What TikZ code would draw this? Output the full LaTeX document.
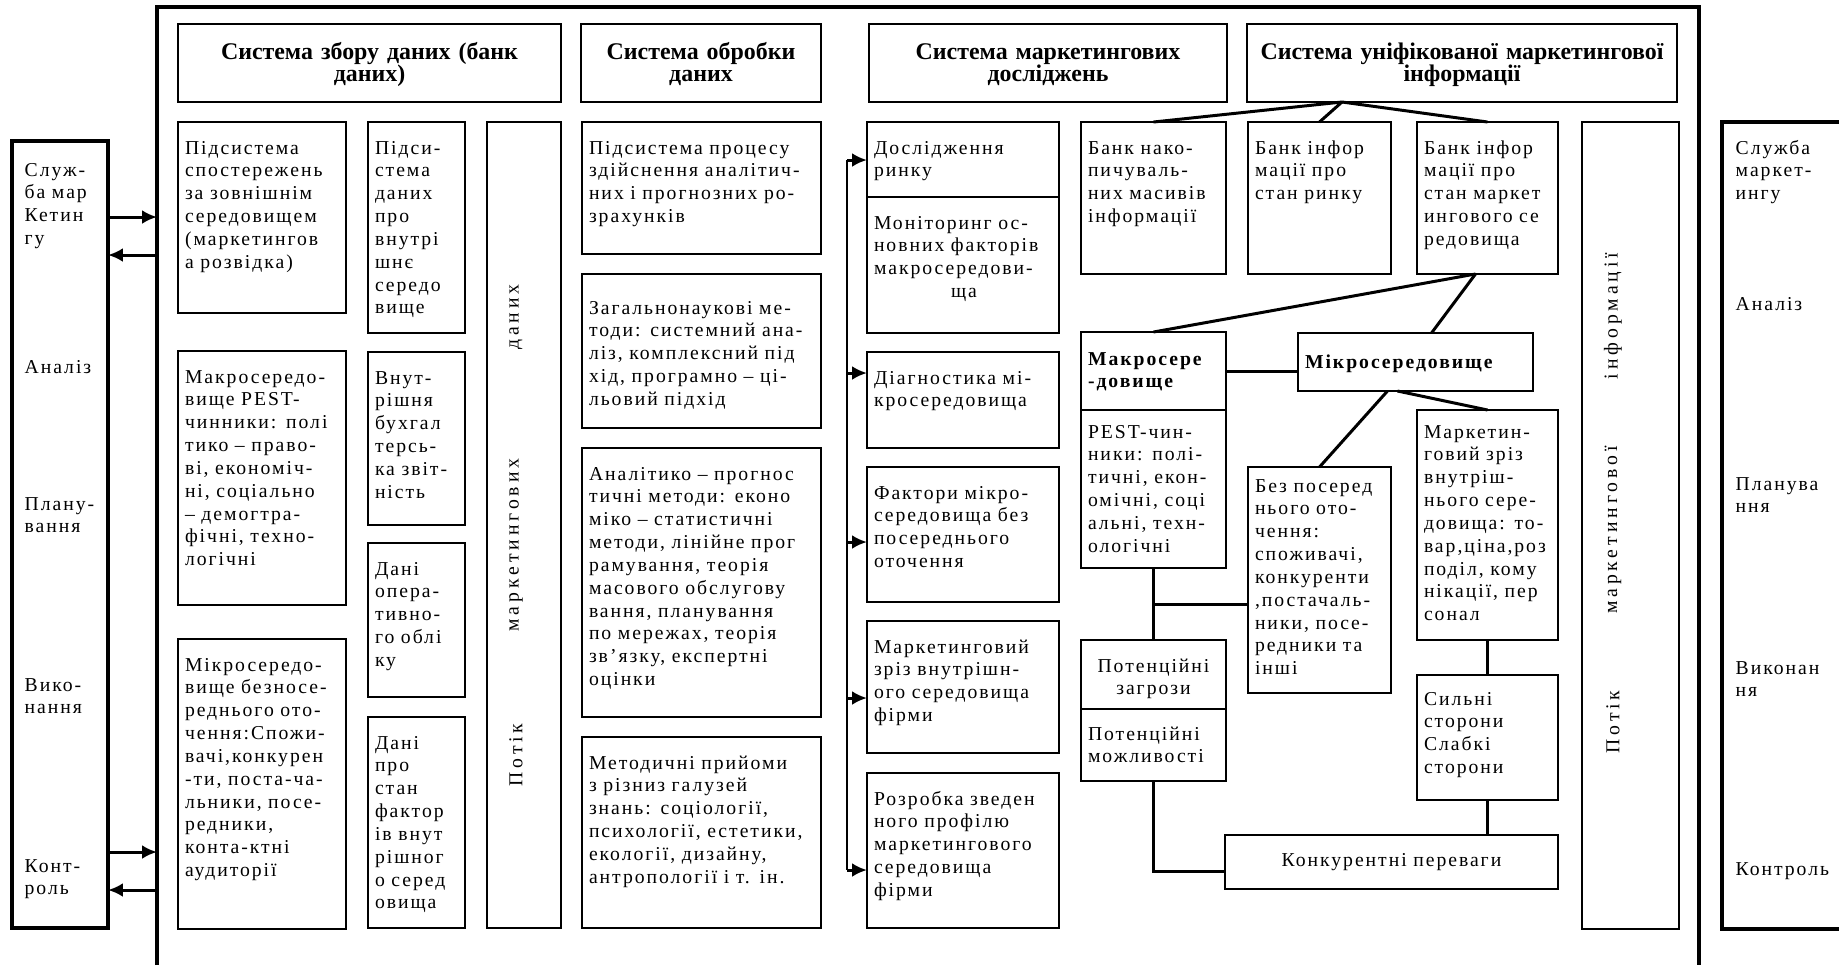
\documentclass[tikz,border=0pt]{standalone}
\usepackage{fontspec}
\setmainfont{Liberation Serif}
\newfontfamily\bodyfont{Liberation Serif}[LetterSpace=10]
\newfontfamily\headfont{Liberation Serif}
\newfontfamily\rotfont{Liberation Serif}[LetterSpace=20]
\usepackage{tikz}
\usetikzlibrary{arrows.meta, positioning}

\begin{document}
\begin{tikzpicture}[x=0.1mm, y=-0.1mm,
			>={Latex[length=1.5mm, width=1.4mm]},
			box/.style={draw, line width=0.75pt, anchor=north west, align=left,
				inner xsep=0.7mm, inner ysep=0pt, outer sep=0pt, text height=3.2mm,
				font=\bodyfont\fontsize{5.6}{6.5}\selectfont},
			headbox/.style={draw, line width=0.75pt, anchor=north west, align=center,
				inner sep=0pt, outer sep=0pt, text height=3.5mm, text depth=4.3mm,
				font=\headfont\bfseries\fontsize{6.8}{6.5}\selectfont},
			flowbox/.style={draw, line width=0.75pt, anchor=north west, inner sep=0pt, outer sep=0pt},
			sidetext/.style={anchor=base west, align=left, inner sep=0pt,
				font=\bodyfont\fontsize{5.6}{6.5}\selectfont},
			vtext/.style={rotate=90, inner sep=0pt, font=\rotfont\fontsize{5.6}{6}\selectfont},
			outline/.style={line width=1.1pt},
			tree/.style={line width=0.85pt},
			arr/.style={->, line width=0.85pt}]
			
			\fill[white, use as bounding box] (0,0) rectangle (1839,965);
			
			% frame and the two side columns
			\draw[outline] (157,965) |- (1699,7) -- (1699,965);
			\node[flowbox, line width=1.1pt, minimum width=9.6mm, minimum height=78.7mm] (lbox) at (12,141) {};
			\draw[outline] (1839,122) -| (1722,929) -- (1839,929);
			
			\node[sidetext, text width=8mm] (lsluzh) at (24,176) {Служ-\\ба мар\\Кетин\\гу};
			\node[sidetext, text width=8mm] (lanal) at (24,373) {Аналіз};
			\node[sidetext, text width=8mm] (lplan) at (24,510) {Плану-\\вання};
			\node[sidetext, text width=8mm] (lvykon) at (24,691) {Вико-\\нання};
			\node[sidetext, text width=8mm] (lkontr) at (24,872) {Конт-\\роль};
			
			\node[sidetext, text width=10mm] (rsluzh) at (1735,154) {Служба\\маркет-\\ингу};
			\node[sidetext, text width=10mm] (ranal) at (1735,310) {Аналіз};
			\node[sidetext, text width=10mm] (rplan) at (1735,490) {Планува\\ння};
			\node[sidetext, text width=10mm] (rvykon) at (1735,674) {Виконан\\ня};
			\node[sidetext, text width=10mm] (rkontr) at (1735,875) {Контроль};
			
			% headers
			\node[headbox, text width=38.3mm] (zbir) at (178,24) {Система збору даних (банк\\даних)};
			\node[headbox, text width=24mm] (obrob) at (581,24) {Система обробки\\даних};
			\node[headbox, text width=35.8mm] (dosl) at (869,24) {Система маркетингових\\досліджень};
			\node[headbox, text width=43mm] (unif) at (1247,24) {Система уніфікованої маркетингової\\інформації};
			
			% data collection
			\node[box, text width=15.4mm, text depth=15.9mm] (sposter) at (178,122) {Підсистема\\спостережень\\за зовнішнім\\середовищем\\(маркетингов\\а розвідка)};
			\node[box, text width=15.4mm, text depth=22.2mm] (makro) at (178,351) {Макросередо-\\вище PEST-\\чинники: полі\\тико – право-\\ві, економіч-\\ні, соціально\\– демогтра-\\фічні, техно-\\логічні};
			\node[box, text width=15.4mm, text depth=25.8mm] (mikro) at (178,639) {Мікросередо-\\вище безносе-\\реднього ото-\\чення:Спожи-\\вачі,конкурен\\-ти, поста-ча-\\льники, посе-\\редники,\\конта-ктні\\аудиторії};
			\node[box, text width=8.3mm, text depth=17.9mm] (vnutr) at (368,122) {Підси-\\стема\\даних\\про\\внутрі\\шнє\\середо\\вище};
			\node[box, text width=8.3mm, text depth=14.1mm] (buhg) at (368,352) {Внут-\\рішня\\бухгал\\терсь-\\ка звіт-\\ність};
			\node[box, text width=8.3mm, text depth=12.2mm] (operat) at (368,543) {Дані\\опера-\\тивно-\\го облі\\ку};
			\node[box, text width=8.3mm, text depth=17.9mm] (faktor) at (368,717) {Дані\\про\\стан\\фактор\\ів внут\\рішног\\о серед\\овища};
			\node[flowbox, minimum width=7.4mm, minimum height=80.6mm] (potikd) at (487,122) {};
			\node[vtext] (potikd1) at (516,755) {Потік};
			\node[vtext] (potikd2) at (516,545) {маркетингових};
			\node[vtext] (potikd3) at (516,317) {даних};
			
			% data processing
			\node[box, text width=22.5mm, text depth=10mm] (proces) at (582,122) {Підсистема процесу\\здійснення аналітич-\\них і прогнозних ро-\\зрахунків};
			\node[box, text width=22.5mm, text height=4mm, text depth=11.4mm] (zagal) at (582,274) {Загальнонаукові ме-\\тоди: системний ана-\\ліз, комплексний під\\хід, програмно – ці-\\льовий підхід};
			\node[box, text width=22.5mm, text depth=23.7mm] (analit) at (582,448) {Аналітико – прогнос\\тичні методи: еконо\\міко – статистичні\\методи, лінійне прог\\рамування, теорія\\масового обслугову\\вання, планування\\по мережах, теорія\\зв’язку, експертні\\оцінки};
			\node[box, text width=22.5mm, text depth=15.9mm] (metod) at (582,737) {Методичні прийоми\\з різниз галузей\\знань: соціології,\\психології, естетики,\\екології, дизайну,\\антропології і т. ін.};
			
			% marketing research
			\node[box, text width=17.8mm, text depth=4.3mm] (doslr) at (867,122) {Дослідження\\ринку};
			\node[box, below=0pt of doslr, text width=17.8mm, text depth=10.4mm] (monit) {Моніторинг ос-\\новних факторів\\макросередови-\\\hspace*{7.7mm}ща};
			\node[box, text width=17.8mm, text depth=6.4mm] (diagn) at (867,352) {Діагностика мі-\\кросередовища};
			\node[box, text width=17.8mm, text depth=10.3mm] (faktm) at (867,467) {Фактори мікро-\\середовища без\\посереднього\\оточення};
			\node[box, text width=17.8mm, text depth=10mm] (zrizf) at (867,621) {Маркетинговий\\зріз внутрішн-\\ого середовища\\фірми};
			\node[box, text width=17.8mm, text depth=12.3mm] (rozrob) at (867,773) {Розробка зведен\\ного профілю\\маркетингового\\середовища\\фірми};
			
			\coordinate (ba) at (847,160);
			\coordinate (bb) at (847,373);
			\coordinate (bc) at (847,542);
			\coordinate (bd) at (847,698);
			\coordinate (be) at (847,870);
			\draw[tree] (ba) -- (be);
			\draw[arr] (ba) -- (ba -| doslr.west);
			\draw[arr] (bb) -- (bb -| diagn.west);
			\draw[arr] (bc) -- (bc -| faktm.west);
			\draw[arr] (bd) -- (bd -| zrizf.west);
			\draw[arr] (be) -- (be -| rozrob.west);
			
			% unified information
			\node[box, text width=13.1mm, text depth=12mm] (banknak) at (1081,122) {Банк нако-\\пичуваль-\\них масивів\\інформації};
			\node[box, text width=12.9mm, text depth=12mm] (bankryn) at (1248,122) {Банк інфор\\мації про\\стан ринку};
			\node[box, text width=12.7mm, text depth=12mm] (bankser) at (1417,122) {Банк інфор\\мації про\\стан маркет\\ингового се\\редовища};
			\node[box, text width=13.1mm, text height=3.3mm, text depth=4.5mm, font=\bodyfont\bfseries\fontsize{5.6}{6.5}\selectfont] (makroh) at (1081,332) {Макросере\\-довище};
			\node[box, below=0pt of makroh, text width=13.1mm, text height=2.8mm, text depth=13mm] (pest) {PEST-чин-\\ники: полі-\\тичні, екон-\\омічні, соці\\альні, техн-\\ологічні};
			\node[box, text width=22.1mm, text height=3.5mm, text depth=2.3mm, font=\bodyfont\bfseries\fontsize{5.6}{6.5}\selectfont] (mikroh) at (1298,333) {Мікросередовище};
			\node[box, text width=12.9mm, text height=2.5mm, text depth=20.1mm] (bez) at (1248,467) {Без посеред\\нього ото-\\чення:\\споживачі,\\конкуренти\\,постачаль-\\ники, посе-\\редники та\\інші};
			\node[box, text width=12.7mm, text height=2.8mm, text depth=20.2mm] (zrizvn) at (1417,410) {Маркетин-\\говий зріз\\внутріш-\\нього сере-\\довища: то-\\вар,ціна,роз\\поділ, кому\\нікації, пер\\сонал};
			\node[box, align=center, text width=13.1mm, text depth=3.7mm] (zagroz) at (1081,640) {Потенційні\\загрози};
			\node[box, below=0pt of zagroz, text width=13.1mm, text height=3.1mm, text depth=4.1mm] (mozhl) {Потенційні\\можливості};
			\node[box, text width=12.7mm, text height=3mm, text depth=9.5mm] (sylni) at (1417,675) {Сильні\\сторони\\Слабкі\\сторони};
			\node[box, align=center, text width=31.9mm, text height=3.1mm, text depth=2.3mm] (konkur) at (1225,835) {Конкурентні переваги};
			\node[flowbox, minimum width=9.7mm, minimum height=80.7mm] (potiki) at (1582,122) {};
			\node[vtext] (potiki1) at (1613,722) {Потік};
			\node[vtext] (potiki2) at (1613,530) {маркетингової};
			\node[vtext] (potiki3) at (1613,316) {інформації};
			
			\coordinate (hub) at ([xshift=-12mm]unif.south);
			\draw[tree] (hub) -- (banknak.north);
			\draw[tree] (hub) -- (bankryn.north);
			\draw[tree] (hub) -- (bankser.north);
			\draw[tree] ([xshift=-1.2mm]bankser.south) -- (makroh.north);
			\draw[tree] ([xshift=-1.2mm]bankser.south) -- ([xshift=1.6mm]mikroh.north);
			\draw[tree] (makroh.east) -- (makroh.east -| mikroh.west);
			\draw[tree] ([xshift=-2.8mm]mikroh.south) -- (bez.north);
			\draw[tree] ([xshift=-1.8mm]mikroh.south) -- (zrizvn.north);
			\draw[tree] (pest.south) -- (zagroz.north);
			\draw[tree] ([yshift=-2.4mm]bez.west) -- ([yshift=-2.4mm]bez.west -| pest.south);
			\draw[tree] (mozhl.south) |- ([yshift=-0.9mm]konkur.west);
			\draw[tree] (zrizvn.south) -- (sylni.north);
			\draw[tree] (sylni.south) -- (sylni.south |- konkur.north);
			
			% links to the marketing service
			\coordinate (fa) at (157,217);
			\coordinate (fb) at (157,255);
			\coordinate (fc) at (157,852);
			\coordinate (fd) at (157,890);
			\draw[arr] (lbox.east |- fa) -- (fa);
			\draw[arr] (fb) -- (lbox.east |- fb);
			\draw[arr] (lbox.east |- fc) -- (fc);
			\draw[arr] (fd) -- (lbox.east |- fd);
		\end{tikzpicture}
\end{document}
